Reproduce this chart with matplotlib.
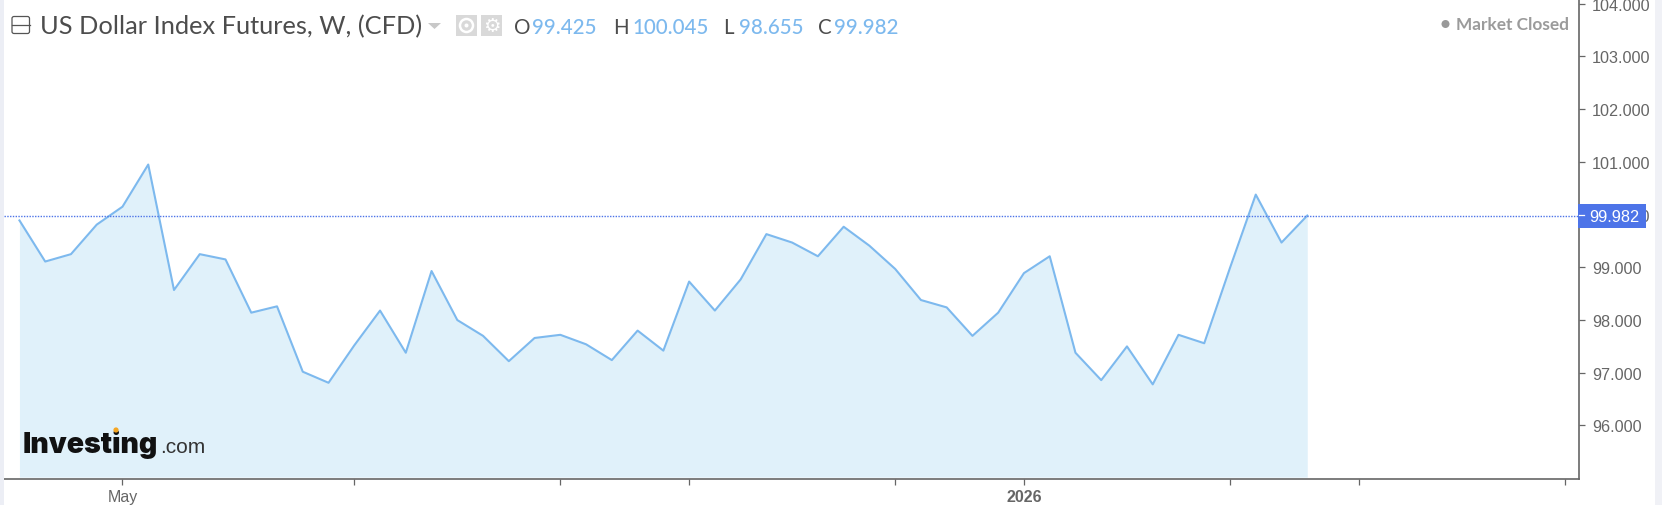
"""US Dollar Index Futures weekly area chart, Investing.com style."""
import matplotlib
matplotlib.use("Agg")
import matplotlib.pyplot as plt
from matplotlib.patches import Circle, FancyBboxPatch, Rectangle, Polygon

W, H = 1662, 506
LINE = "#7db9ee"
FILL = "#e0f1fa"
BLUE = "#4d74e8"
AXC = "#666666"
GREY = "#4d4d4d"

closes = [99.89, 99.11, 99.25, 99.81, 100.15, 100.95, 98.57, 99.25, 99.15, 98.14,
          98.26, 97.02, 96.81, 97.52, 98.18, 97.38, 98.93, 98.00, 97.70, 97.22,
          97.66, 97.72, 97.54, 97.24, 97.80, 97.42, 98.73, 98.18, 98.77, 99.63,
          99.47, 99.21, 99.77, 99.41, 98.97, 98.38, 98.24, 97.70, 98.14, 98.89,
          99.21, 97.38, 96.86, 97.50, 96.78, 97.72, 97.56, 98.99, 100.38, 99.47,
          99.982]
weeks = list(range(len(closes)))
last = 99.982
x_ticks = [4, 13, 21, 26, 34, 39, 47, 52, 60]
x_labels = ["May", "", "", "", "", "2026", "", "", ""]
y_ticks = [96, 97, 98, 99, 100, 101, 102, 103, 104]
ohlc_names = ["O", "H", "L", "C"]
ohlc_values = ["99.425", "100.045", "98.655", "99.982"]

fig = plt.figure(figsize=(W / 100, H / 100), dpi=100, facecolor="white")
ax = fig.add_axes([4 / W, 1 - 480 / H, (1579 - 4) / W, 480 / H])
ax.set_xlim(-0.6, 60.55)
ax.set_ylim(94.985, 104.09)

ax.fill_between(weeks, closes, 95.02, color=FILL, lw=0)
ax.plot(weeks, closes, color=LINE, lw=1.5)
ax.axhline(last, color=BLUE, ls=(0, (1, 1)), lw=1)

for s in ["top", "left"]:
    ax.spines[s].set_visible(False)
ax.spines["right"].set_color(AXC)
ax.spines["bottom"].set_color(AXC)
ax.spines["right"].set_linewidth(1.2)
ax.spines["bottom"].set_linewidth(1.2)
ax.yaxis.tick_right()
ax.set_yticks(y_ticks)
ax.set_yticklabels([f"{v:.3f}" for v in y_ticks], family="Liberation Sans", fontsize=11.7, color="#666666")
ax.set_xticks(x_ticks)
ax.set_xticklabels(x_labels, family="Liberation Sans", fontsize=11.5, color="#666666")
ax.tick_params(axis="y", length=4.5, width=0.9, color=AXC, pad=5)
ax.tick_params(axis="x", length=4, width=0.9, color=AXC, pad=3)
ax.get_xticklabels()[5].set_fontweight("bold")

# overlay in pixel coordinates for the chart furniture
ov = fig.add_axes([0, 0, 1, 1], facecolor="none")
ov.set_xlim(0, W)
ov.set_ylim(H, 0)
ov.axis("off")

# page edges
ov.add_patch(Rectangle((0, 0), 3.5, H, color="#eceef5", lw=0))
ov.add_patch(Rectangle((1655, 0), 7, H, color="#f0f1f6", lw=0))

# last price flag
ov.add_patch(Rectangle((1578, 205), 68, 24, color=BLUE, lw=0, zorder=3))
ov.plot([1579, 1584], [216, 216], color="white", lw=0.9, zorder=4)
ov.text(1614, 217, f"{last:.3f}", color="white", fontsize=11.8, family="Liberation Sans",
        ha="center", va="center", zorder=4)

# header
ov.add_patch(FancyBboxPatch((12, 17.5), 17.5, 17, boxstyle="round,pad=0,rounding_size=2",
                            fc="white", ec="#555555", lw=0.9))
ov.plot([12, 29.5], [25.7, 25.7], color="#555555", lw=0.9)
ov.text(40, 27, "US Dollar Index Futures, W, (CFD)", color=GREY, fontsize=18.3,
        family="Lato", va="center", ha="left")
ov.add_patch(Polygon([(428, 24), (441, 24), (434.5, 30)], color="#c8c8c8", lw=0))
ov.add_patch(Rectangle((456, 16), 21, 21, color="#d9d9d9", lw=0))
ov.add_patch(Circle((466.5, 26.5), 6.5, fc="none", ec="white", lw=1.8))
ov.add_patch(Circle((466.5, 26.5), 2, color="white", lw=0))
ov.add_patch(Rectangle((481, 16), 21, 21, color="#d9d9d9", lw=0))
ov.text(491.5, 26.5, "\u2699", color="white", fontsize=14, family="DejaVu Sans", ha="center", va="center")

name_x = [514, 613, 723, 818]
value_x = [532, 632, 739, 834]
for n, v, nx, vx in zip(ohlc_names, ohlc_values, name_x, value_x):
    ov.text(nx, 28, n, color=GREY, fontsize=14.8, family="Lato", va="center")
    ov.text(vx, 28, v, color=LINE, fontsize=14.8, family="Lato", weight="medium", va="center")

ov.add_patch(Circle((1445.5, 25), 4, color="#999999", lw=0))
ov.text(1456, 25, "Market Closed", color="#9b9b9b", fontsize=12.4, family="Lato",
        weight="bold", va="center")

# logo
ov.text(23, 453, "Investing", color="#111111", fontsize=20.5, family="Inter",
        weight="black", va="baseline")
ov.text(160, 453, ".com", color="#333333", fontsize=15, family="Liberation Sans", va="baseline")
ov.add_patch(Circle((116, 431), 2.6, color="#f5a623", lw=0, zorder=5))

fig.savefig("out.png", dpi=100)
